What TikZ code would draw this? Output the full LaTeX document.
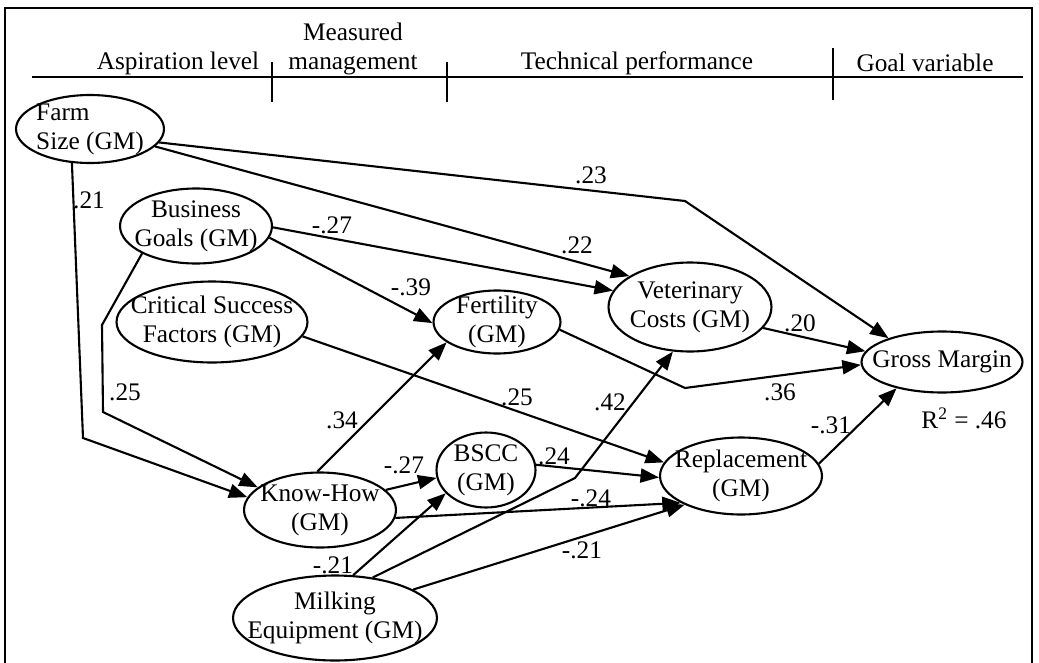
\documentclass[tikz,border=0pt]{standalone}
\usepackage{fontspec}
\setmainfont{Liberation Serif}
\usetikzlibrary{shapes.geometric, arrows.meta, positioning}

\begin{document}
\begin{tikzpicture}[x=0.02cm, y=-0.02cm, >={Triangle[length=10.5pt,width=8pt]},
        every node/.style={font=\fontsize{14.4}{16.5}\selectfont},
        var/.style={ellipse, draw, line width=1.2pt, align=center, inner sep=-1cm},
        link/.style={->, line width=1.2pt},
        coef/.style={inner sep=0pt}]
        \useasboundingbox (0,0) rectangle (1039,663);

        % frame and column headings
        \draw[line width=0.9pt] (5,663) |- (1032,8) -- (1032,663);
        \draw[line width=0.7pt] (32,77) -- (1023,77);
        \draw[line width=0.7pt] (272,62) -- (272,102);
        \draw[line width=0.7pt] (447,62) -- (447,102);
        \draw[line width=0.7pt] (833,48) -- (833,100);
        \node (hasp) at (178,63) {Aspiration level};
        \node[align=center] (hman) at (353,49) {Measured\\management};
        \node (htech) at (637,63) {Technical performance};
        \node (hgoal) at (925,63) {Goal variable};

        % variables
        \node[var, align=left, minimum width=2.96cm, minimum height=1.36cm] (farm) at (90,129) {Farm\\Size (GM)};
        \node[var, minimum width=3.04cm, minimum height=1.5cm] (goals) at (196,226) {Business\\Goals (GM)};
        \node[var, minimum width=3.82cm, minimum height=1.62cm] (csf) at (212,322) {Critical Success\\Factors (GM)};
        \node[var, minimum width=2.54cm, minimum height=1.26cm] (fert) at (497,322) {Fertility\\(GM)};
        \node[var, minimum width=3.26cm, minimum height=1.78cm] (vet) at (690,307) {Veterinary\\Costs (GM)};
        \node[var, minimum width=3.22cm, minimum height=1.22cm] (gm) at (942,362) {Gross Margin};
        \node[coef, below=0.28cm of gm, xshift=0.44cm] (rsq) {R\textsuperscript{2} = .46};
        \node[var, minimum width=3.04cm, minimum height=1.5cm] (know) at (320,510) {Know-How\\(GM)};
        \node[var, minimum width=1.98cm, minimum height=1.5cm] (bscc) at (486,470) {BSCC\\(GM)};
        \node[var, minimum width=3.24cm, minimum height=1.54cm] (repl) at (741,476) {Replacement\\(GM)};
        \node[var, minimum width=4.08cm, minimum height=1.7cm] (milk) at (335,618) {Milking\\Equipment (GM)};

        % bends
        \coordinate (k23) at (685,201);
        \coordinate (k21) at (83,438);
        \coordinate (k25a) at (102,325);
        \coordinate (k25b) at (103,412);
        \coordinate (k36) at (685,388);
        \coordinate (k42) at (575,478);

        \draw[link] (farm.-11) -- (k23) -- (gm.156);
        \draw[link] (farm.-15) -- (vet.153);
        \draw[link] (farm.-118) -- (k21) -- (know.170);
        \draw[link] (goals.-1) -- (vet.168);
        \draw[link] (goals.-9) -- (fert.181);
        \draw[link] (goals.207) -- (k25a) -- (k25b) -- (know.160);
        \draw[link] (csf.-9) -- (repl.170);
        \draw[link] (fert.-7) -- (k36) -- (gm.182);
        \draw[link] (vet.-16) -- (gm.172);
        \draw[link] (know.94) -- (fert.202);
        \draw[link] (know.17) -- (bscc.189);
        \draw[link] (know.-6) -- (repl.204);
        \draw[link] (bscc.6) -- (repl.181);
        \draw[link] (milk.67) -- (bscc.210);
        \draw[link] (milk.47) -- (k42) -- (vet.249);
        \draw[link] (milk.20) -- (repl.207);
        \draw[link] (repl.9) -- (gm.210);

        % path coefficients
        \node[coef] (c23) at (591,175) {.23};
        \node[coef] (c22) at (577,245) {.22};
        \node[coef] (c27a) at (332,225) {-.27};
        \node[coef] (c39) at (411,287) {-.39};
        \node[coef] (c21a) at (89,200) {.21};
        \node[coef] (c25a) at (125,392) {.25};
        \node[coef] (c25b) at (517,397) {.25};
        \node[coef] (c34) at (342,420) {.34};
        \node[coef] (c42) at (610,402) {.42};
        \node[coef] (c36) at (780,392) {.36};
        \node[coef] (c20) at (800,323) {.20};
        \node[coef] (c31) at (831,425) {-.31};
        \node[coef] (c27b) at (404,465) {-.27};
        \node[coef] (c24a) at (554,456) {.24};
        \node[coef] (c24b) at (591,498) {-.24};
        \node[coef] (c21b) at (333,565) {-.21};
        \node[coef] (c21c) at (582,550) {-.21};
    \end{tikzpicture}
\end{document}
